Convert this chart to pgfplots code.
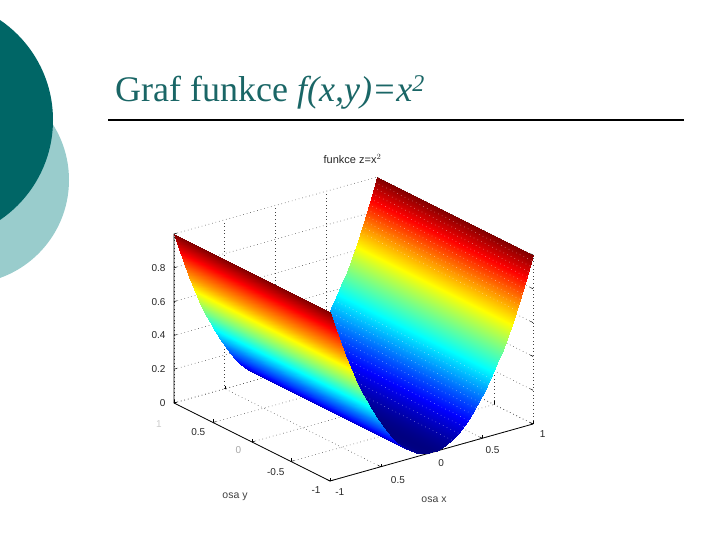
\documentclass[border=0pt]{standalone}
\usepackage{fontspec}
\setmainfont{Liberation Sans}
\newfontfamily\serifT{Liberation Serif}
\usepackage{pgfplots}
\pgfplotsset{compat=1.18}
\definecolor{darkteal}{HTML}{006666}
\definecolor{lightteal}{HTML}{99CCCC}
\definecolor{titleteal}{HTML}{1A6666}
\begin{document}
\begin{tikzpicture}[x=1pt,y=1pt]
\path[use as bounding box] (0,0) rectangle (720,540);
\fill[lightteal] (-35,360) circle [radius=104];
\fill[darkteal] (-67.8,420) circle [radius=120.8];
\node[anchor=base west,inner sep=0pt,text=titleteal] at (115,438)
  {\serifT\fontsize{36}{40}\selectfont Graf funkce \textit{f(x,y)=x}\raisebox{10pt}{\fontsize{24}{28}\selectfont\textit{2}}};
\draw[black,line width=2pt] (108,420) -- (684,420);
\begin{axis}[
  at={(353.5pt,126.5pt)}, anchor=origin,
  x={(101.5pt,28.5pt)}, y={(-78pt,39pt)}, z={(0pt,169pt)},
  xmin=-1,xmax=1,ymin=-1,ymax=1,zmin=0,zmax=1,
  clip=false,
  colormap/jet, point meta min=0, point meta max=1,
  grid=major,
  grid style={black!75,line width=0.55pt,dash pattern=on 0.6pt off 3pt},
  axis line style={draw=none},
  tick style={black,line width=0.5pt},
  tick pos=left,
  major tick length=3pt,
  xtick={-1,-0.5,0,0.5,1}, xticklabels={-1,\hspace{12pt}0.5,0,0.5,1},
  ytick={-1,-0.5,0,0.5,1}, yticklabels={-1,-0.5,\textcolor{gray!70}{0},0.5,\raisebox{-20pt}{\hspace{6pt}\textcolor{gray!40}{1}}},
  ztick={0,0.2,0.4,0.6,0.8,1}, zticklabels={0,0.2,0.4,0.6,0.8,{}},
  tick label style={font=\fontsize{10}{12}\selectfont,text=black!85},
  xticklabel style={xshift=5pt,yshift=-3pt},
  yticklabel style={xshift=-8pt,yshift=-1pt},
  zticklabel style={xshift=-5pt,yshift=-1pt},
  xlabel={osa x},
  xlabel style={at={(axis cs:0.793,0,-0.6456)},anchor=center,yshift=0pt,font=\fontsize{10.5}{12}\selectfont,text=black!75},
  ylabel={osa y},
  ylabel style={at={(axis cs:-1.1675,0,-0.297)},anchor=center,rotate=0,sloped=false,yshift=0pt,font=\fontsize{10.5}{12}\selectfont,text=black!75},
  title={funkce z=x$^2$},
  title style={at={(axis cs:-0.01,0,1.472)},anchor=center,yshift=0pt,font=\fontsize{11}{13}\selectfont,text=black!85},
]
\addplot3[black,line width=0.8pt,no markers] coordinates {(-1,1,1) (-1,1,0) (-1,-1,0) (1,-1,0)};
% far wing (x >= 0)
\addplot3[surf,shader=interp,mesh/rows=2] table {
x y z
0.00 -1 0.0000
0.05 -1 0.0025
0.10 -1 0.0100
0.15 -1 0.0225
0.20 -1 0.0400
0.25 -1 0.0625
0.30 -1 0.0900
0.35 -1 0.1225
0.40 -1 0.1600
0.45 -1 0.2025
0.50 -1 0.2500
0.55 -1 0.3025
0.60 -1 0.3600
0.65 -1 0.4225
0.70 -1 0.4900
0.75 -1 0.5625
0.80 -1 0.6400
0.85 -1 0.7225
0.90 -1 0.8100
0.95 -1 0.9025
1.00 -1 1.0000
0.00 1 0.0000
0.05 1 0.0025
0.10 1 0.0100
0.15 1 0.0225
0.20 1 0.0400
0.25 1 0.0625
0.30 1 0.0900
0.35 1 0.1225
0.40 1 0.1600
0.45 1 0.2025
0.50 1 0.2500
0.55 1 0.3025
0.60 1 0.3600
0.65 1 0.4225
0.70 1 0.4900
0.75 1 0.5625
0.80 1 0.6400
0.85 1 0.7225
0.90 1 0.8100
0.95 1 0.9025
1.00 1 1.0000
};
% stipple seen on the far wing
\addplot3[white,opacity=0.6,line width=0.55pt,dash pattern=on 0.55pt off 3.6pt,no markers] table {
x y z
0.2000 -1 0.04
0.2000 1 0.04

0.2646 -1 0.07
0.2646 1 0.07

0.3162 -1 0.10
0.3162 1 0.10

0.3606 -1 0.13
0.3606 1 0.13

0.4000 -1 0.16
0.4000 1 0.16

0.4359 -1 0.19
0.4359 1 0.19

0.4690 -1 0.22
0.4690 1 0.22

0.5000 -1 0.25
0.5000 1 0.25

0.5292 -1 0.28
0.5292 1 0.28

0.5568 -1 0.31
0.5568 1 0.31

0.5831 -1 0.34
0.5831 1 0.34

0.8367 -1 0.70
0.8367 1 0.70

0.8544 -1 0.73
0.8544 1 0.73

0.8718 -1 0.76
0.8718 1 0.76

0.8888 -1 0.79
0.8888 1 0.79

0.9055 -1 0.82
0.9055 1 0.82

0.9220 -1 0.85
0.9220 1 0.85

0.9381 -1 0.88
0.9381 1 0.88

0.9539 -1 0.91
0.9539 1 0.91

0.9695 -1 0.94
0.9695 1 0.94

0.9849 -1 0.97
0.9849 1 0.97
};
% near wing (x <= 0)
\addplot3[surf,shader=interp,mesh/rows=2] table {
x y z
-1.00 -1 1.0000
-0.95 -1 0.9025
-0.90 -1 0.8100
-0.85 -1 0.7225
-0.80 -1 0.6400
-0.75 -1 0.5625
-0.70 -1 0.4900
-0.65 -1 0.4225
-0.60 -1 0.3600
-0.55 -1 0.3025
-0.50 -1 0.2500
-0.45 -1 0.2025
-0.40 -1 0.1600
-0.35 -1 0.1225
-0.30 -1 0.0900
-0.25 -1 0.0625
-0.20 -1 0.0400
-0.15 -1 0.0225
-0.10 -1 0.0100
-0.05 -1 0.0025
0.00 -1 0.0000
-1.00 1 1.0000
-0.95 1 0.9025
-0.90 1 0.8100
-0.85 1 0.7225
-0.80 1 0.6400
-0.75 1 0.5625
-0.70 1 0.4900
-0.65 1 0.4225
-0.60 1 0.3600
-0.55 1 0.3025
-0.50 1 0.2500
-0.45 1 0.2025
-0.40 1 0.1600
-0.35 1 0.1225
-0.30 1 0.0900
-0.25 1 0.0625
-0.20 1 0.0400
-0.15 1 0.0225
-0.10 1 0.0100
-0.05 1 0.0025
0.00 1 0.0000
};
\end{axis}
\end{tikzpicture}
\end{document}
